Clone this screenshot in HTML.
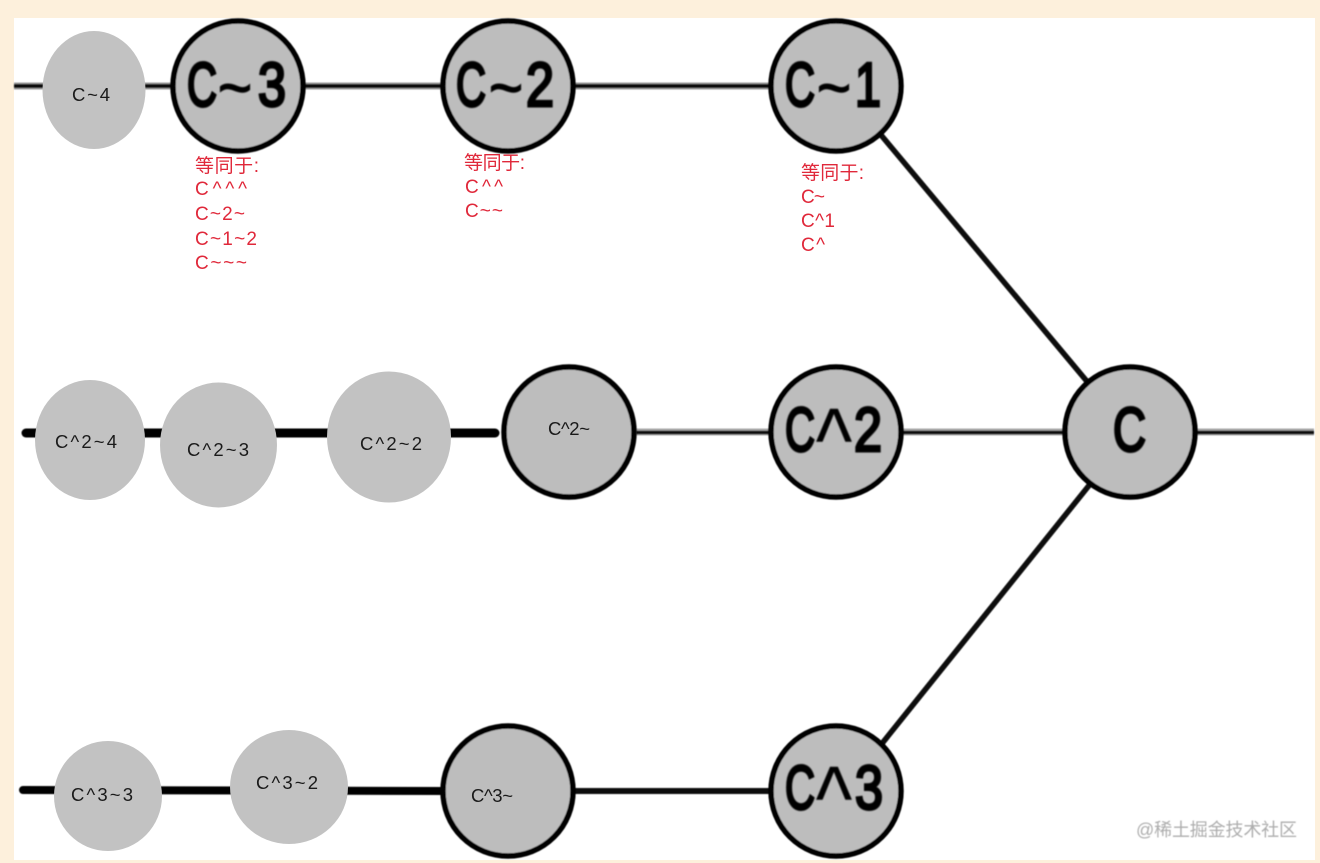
<!DOCTYPE html>
<html lang="zh">
<head>
<meta charset="utf-8">
<title>Git ancestry diagram</title>
<style>
html,body{margin:0;padding:0;background:#fdf0dc;}
svg{display:block;}
.s{font-family:"Liberation Sans","Noto Sans CJK SC",sans-serif;font-size:18.500px;fill:#1a1a1a;}
.r{font-family:"Liberation Sans","Noto Sans CJK SC",sans-serif;font-size:19px;fill:#e0283a;}
.b text{font-family:"Liberation Sans",sans-serif;font-weight:normal;fill:#050505;stroke:#050505;stroke-width:3px;}
.b text.t{stroke-width:.4px;}
.b text.w{stroke-width:1.5px;}
</style>
</head>
<body>
<svg width="1320" height="863" viewBox="0 0 1320 863" xmlns="http://www.w3.org/2000/svg">
<defs>
  <filter id="f" x="-5%" y="-5%" width="110%" height="110%"><feGaussianBlur stdDeviation="0.9"/></filter>
  <filter id="g" x="-5%" y="-5%" width="110%" height="110%"><feGaussianBlur stdDeviation="0.5"/></filter>
</defs>
<rect width="1320" height="863" fill="#fdf0dc"/>
<rect x="14" y="18" width="1301" height="842" fill="#fff"/>

<g fill="none" stroke-linecap="butt" filter="url(#g)">
  <line x1="14" y1="86" x2="770" y2="86" stroke="#9a9a9a" stroke-width="7"/>
  <line x1="14" y1="86" x2="770" y2="86" stroke="#111" stroke-width="4"/>
  <line x1="636" y1="432" x2="1314" y2="432" stroke="#a8a8a8" stroke-width="7"/>
  <line x1="636" y1="432.500" x2="1314" y2="432.500" stroke="#111" stroke-width="3.500"/>
  <line x1="26" y1="433" x2="495" y2="433" stroke="#000" stroke-width="9" stroke-linecap="round"/>
  <line x1="23" y1="790" x2="445" y2="791" stroke="#000" stroke-width="8" stroke-linecap="round"/>
  <line x1="570" y1="791" x2="772" y2="791" stroke="#0a0a0a" stroke-width="6"/>
  <line x1="876" y1="129" x2="1095" y2="391" stroke="#080808" stroke-width="5.500"/>
  <line x1="1095" y1="478" x2="876" y2="751" stroke="#080808" stroke-width="5.500"/>
</g>

<g fill="#c2c2c2">
  <ellipse cx="94" cy="90" rx="51.500" ry="59"/>
  <ellipse cx="90" cy="440" rx="55" ry="60"/>
  <ellipse cx="218.500" cy="445" rx="58.500" ry="62.500"/>
  <ellipse cx="389" cy="437" rx="62" ry="65.500"/>
  <ellipse cx="108" cy="796" rx="54" ry="55"/>
  <ellipse cx="289" cy="787" rx="59" ry="57"/>
</g>

<g fill="#bdbdbd" stroke="#000" stroke-width="5.500" filter="url(#g)">
  <circle cx="238" cy="86" r="65"/>
  <circle cx="508" cy="86" r="65"/>
  <circle cx="836" cy="86" r="65"/>
  <circle cx="569" cy="432" r="65"/>
  <circle cx="836" cy="432" r="65"/>
  <circle cx="1130" cy="432" r="65"/>
  <circle cx="508" cy="791" r="65"/>
  <circle cx="836" cy="791" r="65"/>
</g>

<g class="b" filter="url(#f)" font-size="62">
  <text x="187" y="106" textLength="30" lengthAdjust="spacingAndGlyphs">C</text>
  <text class="w" x="218" y="109" textLength="34" lengthAdjust="spacingAndGlyphs">~</text>
  <text x="258" y="106" textLength="28" lengthAdjust="spacingAndGlyphs">3</text>

  <text x="456" y="106" textLength="30" lengthAdjust="spacingAndGlyphs">C</text>
  <text class="w" x="489" y="109" textLength="34" lengthAdjust="spacingAndGlyphs">~</text>
  <text x="526" y="106" textLength="28" lengthAdjust="spacingAndGlyphs">2</text>

  <text x="785" y="106" textLength="30" lengthAdjust="spacingAndGlyphs">C</text>
  <text class="w" x="817" y="109" textLength="34" lengthAdjust="spacingAndGlyphs">~</text>
  <text x="855" y="106" textLength="26" lengthAdjust="spacingAndGlyphs">1</text>

  <text x="785" y="451" textLength="30" lengthAdjust="spacingAndGlyphs">C</text>
  <text class="t" x="816" y="471" font-size="90" textLength="36" lengthAdjust="spacingAndGlyphs">^</text>
  <text x="854" y="451" textLength="28" lengthAdjust="spacingAndGlyphs">2</text>

  <text x="1113" y="451" textLength="33" lengthAdjust="spacingAndGlyphs">C</text>

  <text x="785" y="809" textLength="30" lengthAdjust="spacingAndGlyphs">C</text>
  <text class="t" x="816" y="829" font-size="90" textLength="36" lengthAdjust="spacingAndGlyphs">^</text>
  <text x="855" y="809" textLength="28" lengthAdjust="spacingAndGlyphs">3</text>
</g>

<g class="s">
  <text x="72" y="101" textLength="38">C~4</text>
  <text x="55" y="448" textLength="62">C^2~4</text>
  <text x="187" y="456" textLength="62">C^2~3</text>
  <text x="360" y="450" textLength="62">C^2~2</text>
  <text x="548" y="435" textLength="42">C^2~</text>
  <text x="71" y="801" textLength="62">C^3~3</text>
  <text x="256" y="789" textLength="62">C^3~2</text>
  <text x="471" y="802" textLength="42">C^3~</text>
</g>

<g class="r">
  <text x="195" y="172" textLength="64">等同于:</text>
  <text x="195" y="195" textLength="52">C^^^</text>
  <text x="195" y="220" textLength="50">C~2~</text>
  <text x="195" y="245" textLength="62">C~1~2</text>
  <text x="195" y="269" textLength="52">C~~~</text>

  <text x="464" y="169" textLength="61">等同于:</text>
  <text x="465" y="193" textLength="38">C^^</text>
  <text x="465" y="217" textLength="38">C~~</text>

  <text x="801" y="179" textLength="63">等同于:</text>
  <text x="801" y="203" textLength="24">C~</text>
  <text x="801" y="227" textLength="34">C^1</text>
  <text x="801" y="251" textLength="24">C^</text>
</g>

<text x="1136" y="836" font-family="'Liberation Sans','Noto Sans CJK SC',sans-serif" font-size="18" fill="#adadad" textLength="161" filter="url(#g)">@稀土掘金技术社区</text>
</svg>
</body>
</html>
